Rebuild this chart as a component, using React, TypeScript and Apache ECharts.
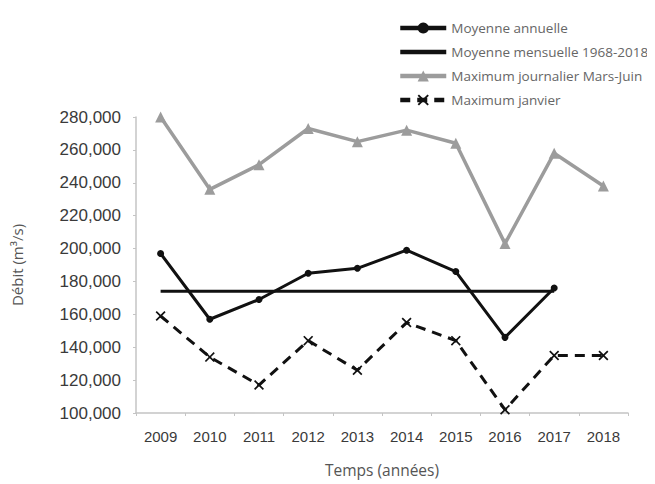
import React, { useEffect, useRef } from "react";
import * as echarts from "echarts";

const years = ["2009", "2010", "2011", "2012", "2013", "2014", "2015", "2016", "2017", "2018"];
const moyenneAnnuelle = [197000, 157000, 169000, 185000, 188000, 199000, 186000, 146000, 176000, null];
const moyenneMensuelle = [174000, 174000, 174000, 174000, 174000, 174000, 174000, 174000, 174000, null];
const maxMarsJuin = [280000, 236000, 251000, 273000, 265000, 272000, 264000, 203000, 258000, 238000];
const maxJanvier = [159000, 134000, 117000, 144000, 126000, 155000, 144000, 102000, 135000, 135000];

const crossPath =
  "path://M0,1.2 L1.2,0 L5,3.8 L8.8,0 L10,1.2 L6.2,5 L10,8.8 L8.8,10 L5,6.2 L1.2,10 L0,8.8 L3.8,5 Z";

export default function App() {
  const ref = useRef<HTMLDivElement>(null);
  useEffect(() => {
    const chart = echarts.init(ref.current!, null, { renderer: "svg" });
    chart.setOption({
      animation: false,
      backgroundColor: "#fff",
      legend: {
        orient: "vertical",
        left: 393,
        top: 16,
        itemWidth: 46,
        itemHeight: 14,
        itemGap: 10,
        lineStyle: { width: 4.5 },
        textStyle: { fontFamily: "Open Sans", fontSize: 13.5, color: "#666" },
        data: [
          { name: "Moyenne annuelle" },
          { name: "Moyenne mensuelle 1968-2018", itemStyle: { opacity: 0 } },
          { name: "Maximum journalier Mars-Juin" },
          { name: "Maximum janvier" },
        ],
      },
      grid: { left: 136, right: 27, top: 117, bottom: 71, containLabel: false },
      xAxis: {
        type: "category",
        data: years,
        boundaryGap: true,
        name: "Temps (années)",
        nameLocation: "middle",
        nameGap: 49,
        nameTextStyle: { fontFamily: "Open Sans", fontSize: 15.5, color: "#555" },
        axisLine: { lineStyle: { color: "#c4c4c4", width: 1.5 } },
        axisTick: { show: true, length: 3, lineStyle: { color: "#c4c4c4" } },
        axisLabel: { fontFamily: "Liberation Sans", fontSize: 15, color: "#3a3a3a", margin: 16 },
      },
      yAxis: {
        type: "value",
        min: 100000,
        max: 280000,
        interval: 20000,
        name: "Débit (m³/s)",
        nameLocation: "middle",
        nameGap: 112,
        nameTextStyle: { fontFamily: "Open Sans", fontSize: 15, color: "#555" },
        axisLine: { show: true, lineStyle: { color: "#c4c4c4", width: 1.5 } },
        axisTick: { show: true, length: 3, lineStyle: { color: "#c4c4c4" } },
        splitLine: { show: false },
        axisLabel: {
          fontFamily: "Liberation Sans",
          fontSize: 17,
          color: "#3a3a3a",
          margin: 15,
          formatter: (v: number) => v.toLocaleString("en-US"),
        },
      },
      series: [
        {
          name: "Moyenne annuelle",
          type: "line",
          data: moyenneAnnuelle,
          symbol: "circle",
          symbolSize: 7,
          showSymbol: true,
          lineStyle: { color: "#111", width: 3 },
          itemStyle: { color: "#111" },
          z: 4,
        },
        {
          name: "Moyenne mensuelle 1968-2018",
          type: "line",
          data: moyenneMensuelle,
          symbol: "none",
          lineStyle: { color: "#111", width: 3 },
          itemStyle: { color: "#111" },
          z: 3,
        },
        {
          name: "Maximum journalier Mars-Juin",
          type: "line",
          data: maxMarsJuin,
          symbol: "triangle",
          symbolSize: 11,
          lineStyle: { color: "#9c9c9c", width: 3.5 },
          itemStyle: { color: "#9c9c9c" },
          z: 2,
        },
        {
          name: "Maximum janvier",
          type: "line",
          data: maxJanvier,
          symbol: crossPath,
          symbolSize: 10,
          lineStyle: { color: "#111", width: 3, type: [10, 7] },
          itemStyle: { color: "#111" },
          z: 2,
        },
      ],
    });
    return () => chart.dispose();
  }, []);
  return <div ref={ref} style={{ width: 655, height: 484, marginLeft: -8, marginTop: -8 }} />;
}
